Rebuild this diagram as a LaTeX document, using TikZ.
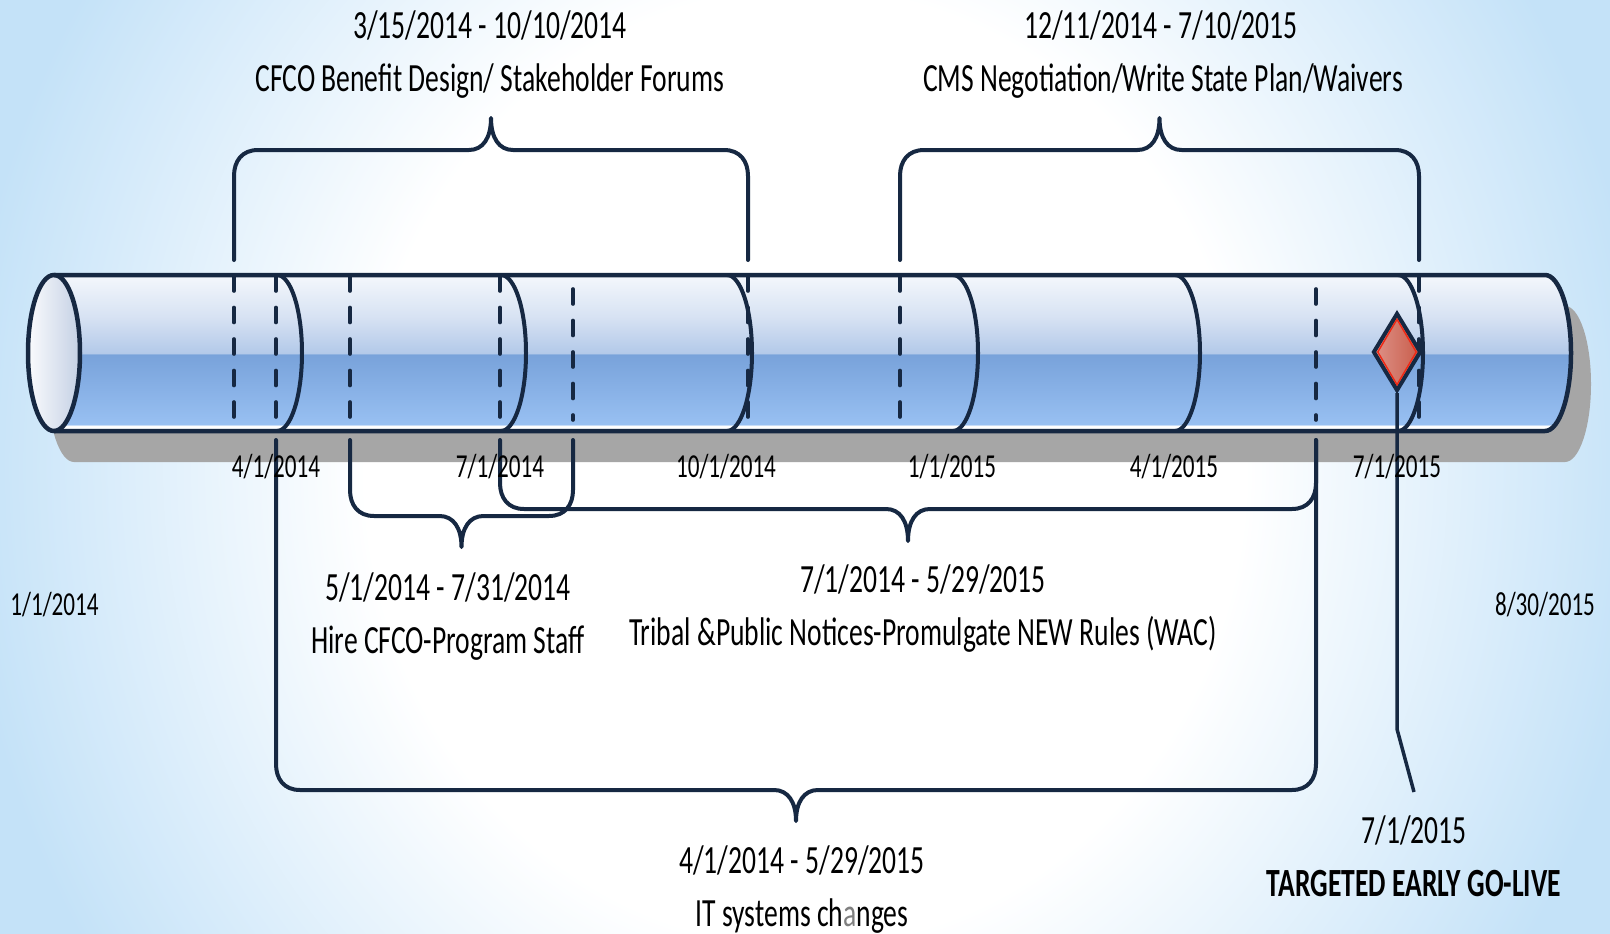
\documentclass[tikz,border=0pt]{standalone}
\usepackage{fontspec}
\setmainfont{Carlito}
\usepackage{graphicx}
\usetikzlibrary{shapes.geometric}

\definecolor{navy}{RGB}{22,40,66}
\definecolor{bgblue}{RGB}{196,226,248}
\definecolor{tT}{RGB}{244,247,252}
\definecolor{tU2}{RGB}{216,227,243}
\definecolor{tU}{RGB}{178,201,233}
\definecolor{tM}{RGB}{120,162,218}
\definecolor{tB}{RGB}{152,192,242}
\definecolor{shadowgray}{RGB}{166,166,166}
\definecolor{capL}{RGB}{250,251,253}
\definecolor{capR}{RGB}{196,208,228}
\definecolor{dmL}{RGB}{222,146,136}
\definecolor{dmR}{RGB}{200,92,74}
\definecolor{dmred}{RGB}{240,40,20}

\pgfdeclareradialshading{bgshade}{\pgfpoint{0bp}{0bp}}{color(0bp)=(white); color(13bp)=(white); color(25bp)=(bgblue); color(50bp)=(bgblue)}
\pgfdeclareverticalshading{tubeshade}{100bp}{color(0bp)=(tB); color(25.5bp)=(tB); color(26.0bp)=(white); color(26.6bp)=(white); color(27.2bp)=(tB); color(49.6bp)=(tM); color(49.8bp)=(tU); color(62bp)=(tU2); color(75bp)=(tT); color(100bp)=(tT)}

\newcommand\sq[1]{\scalebox{0.69}[1]{#1}}
\newcommand\bigsz{\fontsize{40}{46}\selectfont}
\newcommand\smallsz{\fontsize{33.5}{38}\selectfont}

% bracket: xl, xr, free end Y, line Y, tip Y, direction (+1 tip below, -1 tip above)
\newcommand\brkt[6]{%
\pgfmathsetmacro\bcx{(#1+#2)/2}%
\pgfmathsetmacro\bcv{-(#4)+(#6)*26}%
\pgfmathsetmacro\bcc{-(#4)+(#6)*11}%
\pgfmathsetmacro\bsp{-(#4)-(#6)*12}%
\draw[brk] (#1,-#3) -- (#1,\bcv) .. controls (#1,\bcc) and ({#1+8},-#4) .. ({#1+24},-#4) -- ({\bcx-22},-#4) .. controls ({\bcx-8},-#4) and (\bcx,\bsp) .. (\bcx,-#5) .. controls (\bcx,\bsp) and ({\bcx+8},-#4) .. ({\bcx+22},-#4) -- ({#2-24},-#4) .. controls ({#2-8},-#4) and (#2,\bcc) .. (#2,\bcv) -- (#2,-#3);}

\tikzset{
  brk/.style={draw=navy, line width=4, line cap=round, line join=round},
  outl/.style={draw=navy, line width=4.5},
  dsh/.style={draw=navy, line width=3.6, line cap=round, dash pattern=on 15pt off 16.5pt},
  lbl/.style={inner sep=0, anchor=base, text=black},
}

\begin{document}
\begin{tikzpicture}[x=1pt,y=1pt]
\useasboundingbox (0,0) rectangle (1610,-934);
% background
\begin{scope}
\clip (0,0) rectangle (1610,-934);
\shade[shading=bgshade] (-40,450) rectangle (1650,-1384);
\end{scope}

% shadow
\fill[shadowgray] (74,-306) -- (1565,-306) arc[start angle=90,end angle=-90,x radius=26,y radius=78] -- (74,-462) arc[start angle=270,end angle=90,x radius=26,y radius=78] -- cycle;

% tube body
\shade[shading=tubeshade] (54,-275) -- (1545,-275) arc[start angle=90,end angle=-90,x radius=26,y radius=78] -- (54,-431) -- cycle;

% left cap
\shade[left color=capL, right color=capR] (54,-353) ellipse[x radius=26, y radius=78];
\draw[outl] (54,-353) ellipse[x radius=26, y radius=78];

% section arcs
\foreach \x in {277,501,727,953,1175,1398}
  \draw[draw=navy, line width=4] (\x,-275) arc[start angle=90,end angle=-90,x radius=25,y radius=78];

% dashed lines
\foreach \x/\ya in {234/276,276/276,350/276,500/276,573/289,748/276,900/276,1316/289,1419/276}
  \draw[dsh] (\x,-\ya) -- (\x,-420);

% tube outline
\draw[outl] (54,-275) -- (1545,-275) arc[start angle=90,end angle=-90,x radius=26,y radius=78] -- (54,-431);

% milestone diamond
\node[diamond, draw=navy, line width=4, left color=dmL, right color=dmR, minimum width=48, minimum height=78, inner sep=0] (go) at (1397,-352) {};
\node[diamond, draw=dmred, line width=1.4, minimum width=39, minimum height=66, inner sep=0] (goin) at (go.center) {};
\coordinate (gobend) at (1397,-729);
\coordinate (goend) at (1414,-792);
\draw[draw=navy, line width=3.5] (go.south) -- (gobend) -- (goend);

% brackets
\brkt{234}{748}{260}{150}{118}{-1}
\brkt{900}{1419}{260}{150}{118}{-1}
\brkt{276}{1316}{440}{790}{821}{1}
\brkt{500}{1316}{440}{509}{541}{1}
\brkt{350}{573}{440}{516}{547}{1}

% top labels
\node[lbl] (cfcod) at (490,-39) {\bigsz\sq{3/15/2014 - 10/10/2014}};
\node[lbl] (cfcot) at (490,-92) {\bigsz\sq{CFCO Benefit Design/ Stakeholder Forums}};
\node[lbl] (cmsd) at (1161,-39) {\bigsz\sq{12/11/2014 - 7/10/2015}};
\node[lbl] (cmst) at (1163,-92) {\bigsz\sq{CMS Negotiation/Write State Plan/Waivers}};

% bottom labels
\node[lbl] (hired) at (448,-600) {\bigsz\sq{5/1/2014 - 7/31/2014}};
\node[lbl] (hiret) at (448,-653) {\bigsz\sq{Hire CFCO-Program Staff}};
\node[lbl] (tribd) at (923,-592) {\bigsz\sq{7/1/2014 - 5/29/2015}};
\node[lbl] (tribt) at (923,-645) {\bigsz\sq{Tribal \&Public Notices-Promulgate NEW Rules (WAC)}};
\node[lbl] (itd) at (802,-873) {\bigsz\sq{4/1/2014 - 5/29/2015}};
\node[lbl] (itt) at (802,-926) {\bigsz\sq{IT systems ch{\color{gray}a}nges}};
\node[lbl] (god) at (1414,-843) {\bigsz\sq{7/1/2015}};
\node[lbl] (got) at (1414,-896) {\bigsz\sq{\bfseries TARGETED EARLY GO-LIVE}};

% tick labels
\node[lbl] (t1) at (276,-477) {\smallsz\sq{4/1/2014}};
\node[lbl] (t2) at (500,-477) {\smallsz\sq{7/1/2014}};
\node[lbl] (t3) at (726,-477) {\smallsz\sq{10/1/2014}};
\node[lbl] (t4) at (952,-477) {\smallsz\sq{1/1/2015}};
\node[lbl] (t5) at (1174,-477) {\smallsz\sq{4/1/2015}};
\node[lbl] (t6) at (1397,-477) {\smallsz\sq{7/1/2015}};
\node[lbl] (tstart) at (54.5,-615) {\smallsz\sq{1/1/2014}};
\node[lbl] (tend) at (1545,-615) {\smallsz\sq{8/30/2015}};
\end{tikzpicture}
\end{document}
